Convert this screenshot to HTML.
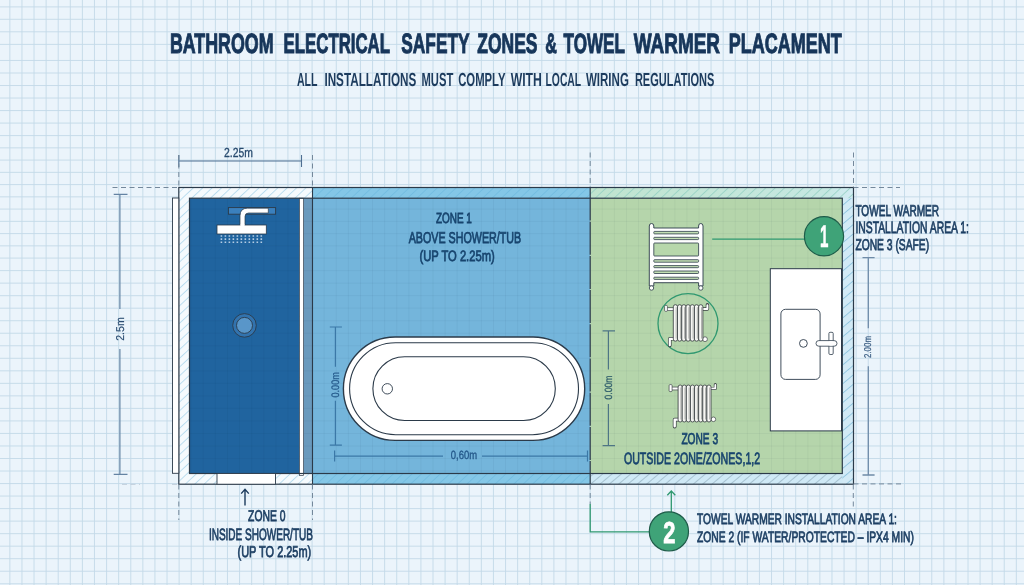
<!DOCTYPE html>
<html lang="en"><head><meta charset="utf-8"><title>Bathroom Electrical Safety Zones &amp; Towel Warmer Placament</title>
<style>
html,body{margin:0;padding:0;background:#ebf4fb;}
body{width:1024px;height:585px;overflow:hidden;font-family:"Liberation Sans",Arial,sans-serif;}
svg{display:block;will-change:transform;}
</style></head><body>
<svg width="1024" height="585" viewBox="0 0 1024 585" font-family="Liberation Sans, Arial, sans-serif" font-weight="700" text-rendering="geometricPrecision">
<defs>
<pattern id="hatch" width="6.4" height="6.4" patternUnits="userSpaceOnUse" patternTransform="rotate(47)">
<path d="M0.5 0V6.4" stroke="#a8d3ea" stroke-width="0.75" fill="none"/>
</pattern>
<pattern id="hatch1" width="6.4" height="6.4" patternUnits="userSpaceOnUse" patternTransform="rotate(47)">
<path d="M0.5 0V6.4" stroke="#6fb9df" stroke-width="0.75" fill="none"/>
</pattern>
<pattern id="hatchg" width="6.4" height="6.4" patternUnits="userSpaceOnUse" patternTransform="rotate(47)">
<path d="M0.5 0V6.4" stroke="#93d0c2" stroke-width="0.8" fill="none"/>
</pattern>
<pattern id="hatchb" width="6" height="6" patternUnits="userSpaceOnUse" patternTransform="rotate(50)">
<path d="M0.5 0V6" stroke="#9db9c8" stroke-width="0.8" fill="none"/>
</pattern>
<pattern id="hatchr" width="7.2" height="7.2" patternUnits="userSpaceOnUse" patternTransform="rotate(50)">
<path d="M0.5 0V7.2" stroke="#8fc5df" stroke-width="0.9" fill="none"/>
</pattern>
</defs>
<rect width="1024" height="585" fill="#ebf4fb"/>
<path id="gridp" d="M9.85 0V585M21.94 0V585M34.03 0V585M46.12 0V585M58.21 0V585M70.30 0V585M82.39 0V585M94.48 0V585M106.57 0V585M118.66 0V585M130.75 0V585M142.84 0V585M154.93 0V585M167.02 0V585M179.11 0V585M191.20 0V585M203.29 0V585M215.38 0V585M227.47 0V585M239.56 0V585M251.65 0V585M263.74 0V585M275.83 0V585M287.92 0V585M300.01 0V585M312.10 0V585M324.19 0V585M336.28 0V585M348.37 0V585M360.46 0V585M372.55 0V585M384.64 0V585M396.73 0V585M408.82 0V585M420.91 0V585M433.00 0V585M445.09 0V585M457.18 0V585M469.27 0V585M481.36 0V585M493.45 0V585M505.54 0V585M517.63 0V585M529.72 0V585M541.81 0V585M553.90 0V585M565.99 0V585M578.08 0V585M590.17 0V585M602.26 0V585M614.35 0V585M626.44 0V585M638.53 0V585M650.62 0V585M662.71 0V585M674.80 0V585M686.89 0V585M698.98 0V585M711.07 0V585M723.16 0V585M735.25 0V585M747.34 0V585M759.43 0V585M771.52 0V585M783.61 0V585M795.70 0V585M807.79 0V585M819.88 0V585M831.97 0V585M844.06 0V585M856.15 0V585M868.24 0V585M880.33 0V585M892.42 0V585M904.51 0V585M919.70 0V585M931.78 0V585M943.86 0V585M955.94 0V585M968.02 0V585M980.10 0V585M992.18 0V585M1004.26 0V585M1016.34 0V585M0 583.75H1024M0 571.23H1024M0 558.70H1024M0 546.17H1024M0 533.65H1024M0 521.12H1024M0 508.60H1024M0 496.07H1024M0 483.55H1024M0 471.02H1024M0 458.50H1024M0 445.98H1024M0 433.45H1024M0 420.92H1024M0 408.40H1024M0 395.88H1024M0 383.35H1024M0 370.82H1024M0 358.30H1024M0 345.77H1024M0 333.25H1024M0 320.72H1024M0 308.20H1024M0 295.68H1024M0 283.15H1024M0 270.62H1024M0 258.10H1024M0 245.85H1024M0 233.60H1024M0 221.35H1024M0 209.10H1024M0 196.85H1024M0 184.60H1024M0 172.35H1024M0 160.10H1024M0 147.85H1024M0 135.60H1024M0 123.08H1024M0 110.56H1024M0 98.04H1024M0 85.52H1024M0 73.00H1024M0 60.48H1024M0 44.40H1024M0 31.80H1024M0 19.30H1024M0 6.90H1024" stroke="#c3d9e8" stroke-width="0.9" fill="none"/>
<rect x="178.8" y="187.5" width="674.7" height="296.7" fill="#f5fafd"/>
<rect x="178.8" y="187.5" width="133.7" height="296.7" fill="url(#hatch)"/>
<rect x="312.5" y="187.5" width="277.70000000000005" height="296.7" fill="#84c7e7"/>
<rect x="312.5" y="187.5" width="277.70000000000005" height="296.7" fill="url(#hatch1)"/>
<linearGradient id="tg" x1="0" x2="1" y1="0" y2="0"><stop offset="0" stop-color="#c0e4cf"/><stop offset="0.9" stop-color="#c6e8e2"/><stop offset="1" stop-color="#d3ecf4"/></linearGradient>
<rect x="590.2" y="187.5" width="263.29999999999995" height="11.699999999999989" fill="url(#tg)"/>
<rect x="590.2" y="187.5" width="263.29999999999995" height="11.699999999999989" fill="url(#hatchg)"/>
<rect x="590.2" y="473.5" width="263.29999999999995" height="10.699999999999989" fill="#cfe9f6"/>
<rect x="590.2" y="473.5" width="263.29999999999995" height="10.699999999999989" fill="url(#hatchb)"/>
<rect x="842.3" y="198.2" width="11.200000000000045" height="286.0" fill="#d2eaf6"/>
<rect x="842.3" y="198.2" width="11.200000000000045" height="286.0" fill="url(#hatchr)"/>
<rect x="189.5" y="198.2" width="110.0" height="275.3" fill="#20649f"/>
<rect x="303.5" y="198.2" width="9.0" height="275.3" fill="#6a9abd"/>
<rect x="312.5" y="198.2" width="277.70000000000005" height="275.3" fill="#74b5db"/>
<rect x="590.2" y="198.2" width="252.0999999999999" height="275.3" fill="#b5d5ab"/>
<clipPath id="inner"><rect x="189.5" y="198.2" width="652.8" height="275.3"/></clipPath>
<path d="M9.85 0V585M21.94 0V585M34.03 0V585M46.12 0V585M58.21 0V585M70.30 0V585M82.39 0V585M94.48 0V585M106.57 0V585M118.66 0V585M130.75 0V585M142.84 0V585M154.93 0V585M167.02 0V585M179.11 0V585M191.20 0V585M203.29 0V585M215.38 0V585M227.47 0V585M239.56 0V585M251.65 0V585M263.74 0V585M275.83 0V585M287.92 0V585M300.01 0V585M312.10 0V585M324.19 0V585M336.28 0V585M348.37 0V585M360.46 0V585M372.55 0V585M384.64 0V585M396.73 0V585M408.82 0V585M420.91 0V585M433.00 0V585M445.09 0V585M457.18 0V585M469.27 0V585M481.36 0V585M493.45 0V585M505.54 0V585M517.63 0V585M529.72 0V585M541.81 0V585M553.90 0V585M565.99 0V585M578.08 0V585M590.17 0V585M602.26 0V585M614.35 0V585M626.44 0V585M638.53 0V585M650.62 0V585M662.71 0V585M674.80 0V585M686.89 0V585M698.98 0V585M711.07 0V585M723.16 0V585M735.25 0V585M747.34 0V585M759.43 0V585M771.52 0V585M783.61 0V585M795.70 0V585M807.79 0V585M819.88 0V585M831.97 0V585M844.06 0V585M856.15 0V585M868.24 0V585M880.33 0V585M892.42 0V585M904.51 0V585M919.70 0V585M931.78 0V585M943.86 0V585M955.94 0V585M968.02 0V585M980.10 0V585M992.18 0V585M1004.26 0V585M1016.34 0V585M0 583.75H1024M0 571.23H1024M0 558.70H1024M0 546.17H1024M0 533.65H1024M0 521.12H1024M0 508.60H1024M0 496.07H1024M0 483.55H1024M0 471.02H1024M0 458.50H1024M0 445.98H1024M0 433.45H1024M0 420.92H1024M0 408.40H1024M0 395.88H1024M0 383.35H1024M0 370.82H1024M0 358.30H1024M0 345.77H1024M0 333.25H1024M0 320.72H1024M0 308.20H1024M0 295.68H1024M0 283.15H1024M0 270.62H1024M0 258.10H1024M0 245.85H1024M0 233.60H1024M0 221.35H1024M0 209.10H1024M0 196.85H1024M0 184.60H1024M0 172.35H1024M0 160.10H1024M0 147.85H1024M0 135.60H1024M0 123.08H1024M0 110.56H1024M0 98.04H1024M0 85.52H1024M0 73.00H1024M0 60.48H1024M0 44.40H1024M0 31.80H1024M0 19.30H1024M0 6.90H1024" stroke="#0c2c50" stroke-width="0.9" fill="none" opacity="0.05" clip-path="url(#inner)"/>
<rect x="299.5" y="198.2" width="4" height="277.3" fill="#ffffff" stroke="#2b3a49" stroke-width="0.7"/>
<rect x="178.8" y="187.5" width="674.7" height="296.7" fill="none" stroke="#2b3a49" stroke-width="1.2"/>
<rect x="189.5" y="198.2" width="652.8" height="275.3" fill="none" stroke="#2b3a49" stroke-width="1.2"/>
<path d="M312.5 187.5V484.2" stroke="#2b3a49" stroke-width="1.1" fill="none"/>
<path d="M590.2 187.5V484.2" stroke="#2b3a49" stroke-width="1.2" fill="none" stroke-dasharray="33 1.2"/>
<rect x="172.5" y="198" width="6.3" height="275.3" fill="#ffffff" stroke="#2b3a49" stroke-width="0.9"/>
<rect x="217" y="473.5" width="58.5" height="10.699999999999989" fill="#ffffff" stroke="#2b3a49" stroke-width="0.9"/>
<rect x="228.4" y="207.6" width="47.2" height="6.6" fill="#3b80bd" stroke="#2b3a49" stroke-width="0.9"/>
<path d="M268.3 208.2H247.5Q240 208.2 240 215.7V226H245V216.5Q245 213 248.5 213H268.3Z" fill="#fff" stroke="#2b3a49" stroke-width="0.7"/>
<rect x="217" y="225" width="49.3" height="9" fill="#fff" stroke="#2b3a49" stroke-width="0.8"/>
<rect x="240.4" y="224" width="4.2" height="3" fill="#fff"/>
<path d="M220.60 235.20h1.6v1.6h-1.6zM224.59 235.20h1.6v1.6h-1.6zM228.58 235.20h1.6v1.6h-1.6zM232.57 235.20h1.6v1.6h-1.6zM236.56 235.20h1.6v1.6h-1.6zM240.55 235.20h1.6v1.6h-1.6zM244.54 235.20h1.6v1.6h-1.6zM248.53 235.20h1.6v1.6h-1.6zM252.52 235.20h1.6v1.6h-1.6zM256.51 235.20h1.6v1.6h-1.6zM260.50 235.20h1.6v1.6h-1.6zM220.60 238.30h1.6v1.6h-1.6zM224.59 238.30h1.6v1.6h-1.6zM228.58 238.30h1.6v1.6h-1.6zM232.57 238.30h1.6v1.6h-1.6zM236.56 238.30h1.6v1.6h-1.6zM240.55 238.30h1.6v1.6h-1.6zM244.54 238.30h1.6v1.6h-1.6zM248.53 238.30h1.6v1.6h-1.6zM252.52 238.30h1.6v1.6h-1.6zM256.51 238.30h1.6v1.6h-1.6zM260.50 238.30h1.6v1.6h-1.6zM220.60 241.50h1.6v1.6h-1.6zM224.59 241.50h1.6v1.6h-1.6zM228.58 241.50h1.6v1.6h-1.6zM232.57 241.50h1.6v1.6h-1.6zM236.56 241.50h1.6v1.6h-1.6zM240.55 241.50h1.6v1.6h-1.6zM244.54 241.50h1.6v1.6h-1.6zM248.53 241.50h1.6v1.6h-1.6zM252.52 241.50h1.6v1.6h-1.6zM256.51 241.50h1.6v1.6h-1.6zM260.50 241.50h1.6v1.6h-1.6z" fill="#b4cce3"/>
<circle cx="244.5" cy="325.4" r="11.8" fill="#3273ae" stroke="#2b3a49" stroke-width="0.9"/>
<circle cx="244.5" cy="325.4" r="8" fill="#5996c9" stroke="#2b3a49" stroke-width="0.9"/>
<rect x="343.4" y="337" width="241.3" height="103.4" rx="51.7" fill="#fff" stroke="#2b3a49" stroke-width="1.4"/>
<rect x="349.6" y="342.7" width="228.9" height="92" rx="46" fill="#fff" stroke="#2b3a49" stroke-width="1.1"/>
<rect x="372.9" y="356.8" width="182.4" height="63.7" rx="31.8" fill="#fff" stroke="#2b3a49" stroke-width="1.1"/>
<circle cx="387.3" cy="388.8" r="5.2" fill="#fff" stroke="#2b3a49" stroke-width="0.9"/>
<path d="M178.8 161H301.5M178.8 155V167M301.5 155V167" stroke="#4f6f92" stroke-width="1.1" fill="none"/>
<path d="M119.9 194.4V309M119.9 349V474.4M113.7 194.4H127.5M113.7 474.4H127.5" stroke="#6483a3" stroke-width="1.2" fill="none"/>
<path d="M868.3 257.6V328.3M868.3 366.2V475M862.5 257.6H874.6M862.5 475H874.6" stroke="#6f8ba8" stroke-width="1.3" fill="none"/>
<path d="M335.4 327V366.7M335.4 400.7V445.2M329.8 327H341.9M329.8 445.2H341.9M334.6 456.1H443M482 456.1H587.5M334.6 450.4V461.5M587.5 450.4V461.5" stroke="#3b78a7" stroke-width="1.2" fill="none"/>
<path d="M608.4 330.8V369.6M608.4 404V445.6M602.6 330.8H615M602.6 445.6H615" stroke="#4e7585" stroke-width="1.2" fill="none"/>
<path d="M122 484.4H140M172 484.4H178" stroke="#bccbd8" stroke-width="0.9" stroke-dasharray="5 3.5" fill="none"/>
<path d="M178.8 155V187M312.5 155V187M590.2 152.5V187M853.5 152.5V187M112.5 187.5H178M853.5 187.5H900M853.5 483.9H901M178.8 484.5V520M312.5 484.5V520M590.2 484.5V504M853.3 484.5V507" stroke="#74889b" stroke-width="1" stroke-dasharray="5 3.5" fill="none"/>
<path d="M245 505.5V489.5M241.2 493.6L245 489.2L248.8 493.6" stroke="#1b3a5c" stroke-width="1.4" fill="none"/>
<path d="M649.3 226Q649.3 223.5 651.55 223.5Q653.8 223.5 653.8 226V228H698.6V226Q698.6 223.5 700.8 223.5Q703 223.5 703 226V286H698.6V282.7H653.8V286H649.3Z" fill="#fff" stroke="#2b3a49" stroke-width="0.9"/>
<rect x="653.8" y="231.4" width="44.8" height="2.50" rx="0.8" fill="#c3dfb4" stroke="#2b3a49" stroke-width="0.8"/>
<rect x="653.8" y="237.3" width="44.8" height="2.30" rx="0.8" fill="#c3dfb4" stroke="#2b3a49" stroke-width="0.8"/>
<rect x="653.8" y="243" width="44.8" height="13.00" rx="0.8" fill="#b7d7ab" stroke="#2b3a49" stroke-width="0.8"/>
<rect x="653.8" y="259.7" width="44.8" height="2.50" rx="0.8" fill="#c3dfb4" stroke="#2b3a49" stroke-width="0.8"/>
<rect x="653.8" y="265.6" width="44.8" height="2.10" rx="0.8" fill="#c3dfb4" stroke="#2b3a49" stroke-width="0.8"/>
<rect x="653.8" y="271" width="44.8" height="2.50" rx="0.8" fill="#c3dfb4" stroke="#2b3a49" stroke-width="0.8"/>
<rect x="653.8" y="277.2" width="44.8" height="2.20" rx="0.8" fill="#c3dfb4" stroke="#2b3a49" stroke-width="0.8"/>
<circle cx="651.5" cy="288" r="2.2" fill="#fff" stroke="#2b3a49" stroke-width="0.8"/>
<circle cx="700.8" cy="288" r="2.2" fill="#fff" stroke="#2b3a49" stroke-width="0.8"/>
<circle cx="688" cy="323.6" r="30" fill="none" stroke="#2f9870" stroke-width="1.3"/>
<path d="M667 309.2H674" stroke="#3c4246" stroke-width="3.6"/><path d="M667 309.2H674" stroke="#fff" stroke-width="2.2"/>
<rect x="664.6" y="305.4" width="2.8" height="6" rx="1" fill="#fff" stroke="#3c4246" stroke-width="0.7"/>
<path d="M702 309H707.4V304.8" stroke="#3c4246" stroke-width="3.4" fill="none" stroke-linejoin="round" stroke-linecap="round"/><path d="M702 309H707.4V305.2" stroke="#fff" stroke-width="2" fill="none" stroke-linejoin="round" stroke-linecap="round"/>
<path d="M674 338.8H669.8V345.6" stroke="#3c4246" stroke-width="3.6" fill="none" stroke-linejoin="round" stroke-linecap="round"/><path d="M674 338.8H669.8V345.2" stroke="#fff" stroke-width="2.2" fill="none" stroke-linejoin="round" stroke-linecap="round"/>
<circle cx="705" cy="339.2" r="2.4" fill="#fff" stroke="#3c4246" stroke-width="0.7"/>
<rect x="673.30" y="304.7" width="4.23" height="36.50" rx="2.11" fill="#f7f7f4" stroke="#3c4246" stroke-width="0.85"/>
<path d="M676.18 307.2V338.7" stroke="#aeb1ad" stroke-width="1"/>
<rect x="677.53" y="304.7" width="4.23" height="36.50" rx="2.11" fill="#f7f7f4" stroke="#3c4246" stroke-width="0.85"/>
<path d="M680.40 307.2V338.7" stroke="#aeb1ad" stroke-width="1"/>
<rect x="681.76" y="304.7" width="4.23" height="36.50" rx="2.11" fill="#f7f7f4" stroke="#3c4246" stroke-width="0.85"/>
<path d="M684.63 307.2V338.7" stroke="#aeb1ad" stroke-width="1"/>
<rect x="685.99" y="304.7" width="4.23" height="36.50" rx="2.11" fill="#f7f7f4" stroke="#3c4246" stroke-width="0.85"/>
<path d="M688.86 307.2V338.7" stroke="#aeb1ad" stroke-width="1"/>
<rect x="690.21" y="304.7" width="4.23" height="36.50" rx="2.11" fill="#f7f7f4" stroke="#3c4246" stroke-width="0.85"/>
<path d="M693.09 307.2V338.7" stroke="#aeb1ad" stroke-width="1"/>
<rect x="694.44" y="304.7" width="4.23" height="36.50" rx="2.11" fill="#f7f7f4" stroke="#3c4246" stroke-width="0.85"/>
<path d="M697.32 307.2V338.7" stroke="#aeb1ad" stroke-width="1"/>
<rect x="698.67" y="304.7" width="4.23" height="36.50" rx="2.11" fill="#f7f7f4" stroke="#3c4246" stroke-width="0.85"/>
<path d="M701.55 307.2V338.7" stroke="#aeb1ad" stroke-width="1"/>
<path d="M671 388.5H679" stroke="#3c4246" stroke-width="3.6"/><path d="M671 388.5H679" stroke="#fff" stroke-width="2.2"/>
<rect x="669.1" y="384.6" width="3" height="7" rx="1" fill="#fff" stroke="#3c4246" stroke-width="0.7"/>
<path d="M710 388.4H715.3V384.5" stroke="#3c4246" stroke-width="3" fill="none" stroke-linejoin="round" stroke-linecap="round"/><path d="M710 388.4H715.3V384.9" stroke="#fff" stroke-width="1.7" fill="none" stroke-linejoin="round" stroke-linecap="round"/>
<path d="M679 419.6H674.7V426.6" stroke="#3c4246" stroke-width="3.8" fill="none" stroke-linejoin="round" stroke-linecap="round"/><path d="M679 419.6H674.7V426.2" stroke="#fff" stroke-width="2.4" fill="none" stroke-linejoin="round" stroke-linecap="round"/>
<circle cx="713.4" cy="419.3" r="2.3" fill="#fff" stroke="#3c4246" stroke-width="0.7"/>
<rect x="678.10" y="385" width="4.11" height="37.00" rx="2.06" fill="#f7f7f4" stroke="#3c4246" stroke-width="0.85"/>
<path d="M680.90 387.5V419.5" stroke="#aeb1ad" stroke-width="1"/>
<rect x="682.21" y="385" width="4.11" height="37.00" rx="2.06" fill="#f7f7f4" stroke="#3c4246" stroke-width="0.85"/>
<path d="M685.01 387.5V419.5" stroke="#aeb1ad" stroke-width="1"/>
<rect x="686.33" y="385" width="4.11" height="37.00" rx="2.06" fill="#f7f7f4" stroke="#3c4246" stroke-width="0.85"/>
<path d="M689.12 387.5V419.5" stroke="#aeb1ad" stroke-width="1"/>
<rect x="690.44" y="385" width="4.11" height="37.00" rx="2.06" fill="#f7f7f4" stroke="#3c4246" stroke-width="0.85"/>
<path d="M693.23 387.5V419.5" stroke="#aeb1ad" stroke-width="1"/>
<rect x="694.55" y="385" width="4.11" height="37.00" rx="2.06" fill="#f7f7f4" stroke="#3c4246" stroke-width="0.85"/>
<path d="M697.35 387.5V419.5" stroke="#aeb1ad" stroke-width="1"/>
<rect x="698.66" y="385" width="4.11" height="37.00" rx="2.06" fill="#f7f7f4" stroke="#3c4246" stroke-width="0.85"/>
<path d="M701.46 387.5V419.5" stroke="#aeb1ad" stroke-width="1"/>
<rect x="702.77" y="385" width="4.11" height="37.00" rx="2.06" fill="#f7f7f4" stroke="#3c4246" stroke-width="0.85"/>
<path d="M705.57 387.5V419.5" stroke="#aeb1ad" stroke-width="1"/>
<rect x="706.89" y="385" width="4.11" height="37.00" rx="2.06" fill="#f7f7f4" stroke="#3c4246" stroke-width="0.85"/>
<path d="M709.68 387.5V419.5" stroke="#aeb1ad" stroke-width="1"/>
<rect x="770.3" y="268.7" width="71.2" height="162.2" fill="#fff" stroke="#2b3a49" stroke-width="1"/>
<rect x="780.9" y="309.3" width="39.2" height="70.1" rx="4.6" fill="#fff" stroke="#2b3a49" stroke-width="0.9"/>
<circle cx="803.4" cy="343.4" r="3.9" fill="#fff" stroke="#2b3a49" stroke-width="0.9"/>
<rect x="828.9" y="332.3" width="4.3" height="22.2" rx="1.2" fill="#fff" stroke="#2b3a49" stroke-width="0.8"/>
<rect x="816" y="340.6" width="21" height="5.6" rx="2.8" fill="#fff" stroke="#2b3a49" stroke-width="0.8"/>
<rect x="829.4" y="341.2" width="3.3" height="4.4" fill="#fff"/>
<path d="M712.2 239.1H805" stroke="#2f9870" stroke-width="1.3"/>
<circle cx="824" cy="236.3" r="19.6" fill="#3fa378" stroke="#1f5c4a" stroke-width="1.2"/>
<text x="819.96" y="247.33" font-size="31.19" textLength="8.40" lengthAdjust="spacingAndGlyphs" fill="#fff"  stroke="#fff" stroke-width="0.6" stroke-linejoin="miter" stroke-miterlimit="3">1</text>
<path d="M590.2 504V531.9H650" stroke="#2f9870" stroke-width="1.3" fill="none"/>
<path d="M671.3 512V491.2M667.3 495.2L671.3 491L675.3 495.2" stroke="#2f9870" stroke-width="1.3" fill="none"/>
<circle cx="668.9" cy="531.4" r="19.6" fill="#3fa378" stroke="#1f5c4a" stroke-width="1.2"/>
<text x="663.18" y="542.54" font-size="30.35" textLength="12.17" lengthAdjust="spacingAndGlyphs" fill="#fff"  stroke="#fff" stroke-width="0.8" stroke-linejoin="miter" stroke-miterlimit="3">2</text>
<text x="169.91" y="52.53" font-size="27.99" textLength="103.67" lengthAdjust="spacingAndGlyphs" fill="#17365a"  stroke="#17365a" stroke-width="1.05" stroke-linejoin="miter" stroke-miterlimit="3">BATHROOM</text>
<text x="283.61" y="52.53" font-size="27.99" textLength="106.36" lengthAdjust="spacingAndGlyphs" fill="#17365a"  stroke="#17365a" stroke-width="1.05" stroke-linejoin="miter" stroke-miterlimit="3">ELECTRICAL</text>
<text x="401.31" y="52.53" font-size="27.99" textLength="68.29" lengthAdjust="spacingAndGlyphs" fill="#17365a"  stroke="#17365a" stroke-width="1.05" stroke-linejoin="miter" stroke-miterlimit="3">SAFETY</text>
<text x="477.31" y="52.53" font-size="27.99" textLength="60.19" lengthAdjust="spacingAndGlyphs" fill="#17365a"  stroke="#17365a" stroke-width="1.05" stroke-linejoin="miter" stroke-miterlimit="3">ZONES</text>
<text x="545.21" y="52.53" font-size="27.99" textLength="11.63" lengthAdjust="spacingAndGlyphs" fill="#17365a"  stroke="#17365a" stroke-width="1.05" stroke-linejoin="miter" stroke-miterlimit="3">&amp;</text>
<text x="563.50" y="52.53" font-size="27.99" textLength="61.43" lengthAdjust="spacingAndGlyphs" fill="#17365a"  stroke="#17365a" stroke-width="1.05" stroke-linejoin="miter" stroke-miterlimit="3">TOWEL</text>
<text x="633.81" y="52.53" font-size="27.99" textLength="86.10" lengthAdjust="spacingAndGlyphs" fill="#17365a"  stroke="#17365a" stroke-width="1.05" stroke-linejoin="miter" stroke-miterlimit="3">WARMER</text>
<text x="728.81" y="52.53" font-size="27.99" textLength="112.95" lengthAdjust="spacingAndGlyphs" fill="#17365a"  stroke="#17365a" stroke-width="1.05" stroke-linejoin="miter" stroke-miterlimit="3">PLACAMENT</text>
<text x="296.90" y="86.10" font-size="18.90" textLength="20.59" lengthAdjust="spacingAndGlyphs" fill="#1d3c5e" >ALL</text>
<text x="324.40" y="86.10" font-size="18.90" textLength="91.91" lengthAdjust="spacingAndGlyphs" fill="#1d3c5e" >INSTALLATIONS</text>
<text x="421.50" y="86.10" font-size="18.90" textLength="31.78" lengthAdjust="spacingAndGlyphs" fill="#1d3c5e" >MUST</text>
<text x="458.20" y="86.10" font-size="18.90" textLength="47.31" lengthAdjust="spacingAndGlyphs" fill="#1d3c5e" >COMPLY</text>
<text x="510.70" y="86.10" font-size="18.90" textLength="31.20" lengthAdjust="spacingAndGlyphs" fill="#1d3c5e" >WITH</text>
<text x="545.50" y="86.10" font-size="18.90" textLength="35.69" lengthAdjust="spacingAndGlyphs" fill="#1d3c5e" >LOCAL</text>
<text x="585.90" y="86.10" font-size="18.90" textLength="43.02" lengthAdjust="spacingAndGlyphs" fill="#1d3c5e" >WIRING</text>
<text x="634.90" y="86.10" font-size="18.90" textLength="79.49" lengthAdjust="spacingAndGlyphs" fill="#1d3c5e" >REGULATIONS</text>
<text x="224.03" y="156.87" font-size="13.13" textLength="28.93" lengthAdjust="spacingAndGlyphs" fill="#284a6e"  stroke="#284a6e" stroke-width="0.3" stroke-linejoin="miter" stroke-miterlimit="3" font-weight="400">2.25m</text>
<text x="435.88" y="223.16" font-size="14.72" textLength="35.97" lengthAdjust="spacingAndGlyphs" fill="#17446e"  stroke="#17446e" stroke-width="0.75" stroke-linejoin="miter" stroke-miterlimit="3" font-weight="400">ZONE 1</text>
<text x="408.68" y="243.06" font-size="15.73" textLength="112.57" lengthAdjust="spacingAndGlyphs" fill="#17446e"  stroke="#17446e" stroke-width="0.75" stroke-linejoin="miter" stroke-miterlimit="3" font-weight="400">ABOVE SHOWER/TUB</text>
<text x="419.47" y="260.96" font-size="15.01" textLength="75.25" lengthAdjust="spacingAndGlyphs" fill="#17446e"  stroke="#17446e" stroke-width="0.75" stroke-linejoin="miter" stroke-miterlimit="3" font-weight="400">(UP TO 2.25m)</text>
<text x="248.07" y="521.46" font-size="15.44" textLength="37.37" lengthAdjust="spacingAndGlyphs" fill="#1d3f63"  stroke="#1d3f63" stroke-width="0.75" stroke-linejoin="miter" stroke-miterlimit="3" font-weight="400">ZONE 0</text>
<text x="208.88" y="539.66" font-size="16.46" textLength="104.05" lengthAdjust="spacingAndGlyphs" fill="#1d3f63"  stroke="#1d3f63" stroke-width="0.75" stroke-linejoin="miter" stroke-miterlimit="3" font-weight="400">INSIDE SHOWER/TUB</text>
<text x="237.57" y="557.26" font-size="15.73" textLength="73.65" lengthAdjust="spacingAndGlyphs" fill="#1d3f63"  stroke="#1d3f63" stroke-width="0.75" stroke-linejoin="miter" stroke-miterlimit="3" font-weight="400">(UP TO 2.25m)</text>
<text x="681.38" y="443.86" font-size="15.73" textLength="36.77" lengthAdjust="spacingAndGlyphs" fill="#17446e"  stroke="#17446e" stroke-width="0.75" stroke-linejoin="miter" stroke-miterlimit="3" font-weight="400">ZONE 3</text>
<text x="623.88" y="463.76" font-size="16.46" textLength="136.27" lengthAdjust="spacingAndGlyphs" fill="#17446e"  stroke="#17446e" stroke-width="0.75" stroke-linejoin="miter" stroke-miterlimit="3" font-weight="400">OUTSIDE 2ONE/ZONES,1,2</text>
<text x="855.38" y="215.76" font-size="15.73" textLength="83.77" lengthAdjust="spacingAndGlyphs" fill="#1d3f63"  stroke="#1d3f63" stroke-width="0.75" stroke-linejoin="miter" stroke-miterlimit="3" font-weight="400">TOWEL WARMER</text>
<text x="855.38" y="233.46" font-size="16.46" textLength="113.57" lengthAdjust="spacingAndGlyphs" fill="#1d3f63"  stroke="#1d3f63" stroke-width="0.75" stroke-linejoin="miter" stroke-miterlimit="3" font-weight="400">INSTALLATION AREA 1:</text>
<text x="855.38" y="249.86" font-size="15.73" textLength="73.73" lengthAdjust="spacingAndGlyphs" fill="#1d3f63"  stroke="#1d3f63" stroke-width="0.75" stroke-linejoin="miter" stroke-miterlimit="3" font-weight="400">ZONE 3 (SAFE)</text>
<text x="696.98" y="523.96" font-size="15.01" textLength="199.97" lengthAdjust="spacingAndGlyphs" fill="#1d3f63"  stroke="#1d3f63" stroke-width="0.75" stroke-linejoin="miter" stroke-miterlimit="3" font-weight="400">TOWEL WARMER INSTALLATION AREA 1:</text>
<text x="696.98" y="541.66" font-size="15.01" textLength="216.93" lengthAdjust="spacingAndGlyphs" fill="#1d3f63"  stroke="#1d3f63" stroke-width="0.75" stroke-linejoin="miter" stroke-miterlimit="3" font-weight="400">ZONE 2 (IF WATER/PROTECTED – IPX4 MIN)</text>
<text x="450.84" y="458.84" font-size="11.90" textLength="26.22" lengthAdjust="spacingAndGlyphs" fill="#24588a"  stroke="#24588a" stroke-width="0.35" stroke-linejoin="miter" stroke-miterlimit="3" font-weight="400">0,60m</text>
<text transform="translate(123.50,340.75) rotate(-90)" x="0.00" y="0" font-size="11.34" textLength="23.48" lengthAdjust="spacingAndGlyphs" fill="#2b4d72" font-weight="400" stroke="#2b4d72" stroke-width="0.2">2.5m</text>
<text transform="translate(339.05,397.50) rotate(-90)" x="0.00" y="0" font-size="10.90" textLength="25.39" lengthAdjust="spacingAndGlyphs" fill="#275d8e" font-weight="400" stroke="#275d8e" stroke-width="0.3">0.00m</text>
<text transform="translate(612.20,399.60) rotate(-90)" x="0.00" y="0" font-size="10.47" textLength="24.19" lengthAdjust="spacingAndGlyphs" fill="#35626e" font-weight="400" stroke="#35626e" stroke-width="0.3">0.00m</text>
<text transform="translate(871.20,358.00) rotate(-90)" x="0.00" y="0" font-size="9.88" textLength="22.00" lengthAdjust="spacingAndGlyphs" fill="#3f6186" font-weight="400" stroke="#3f6186" stroke-width="0.25">2.00m</text>
</svg>
</body></html>
